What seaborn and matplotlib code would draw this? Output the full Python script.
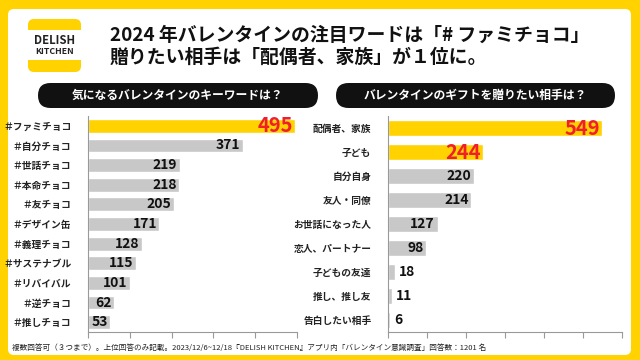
"""Valentine survey bar charts (DELISH KITCHEN)."""
import matplotlib.pyplot as plt
import pandas as pd
import seaborn as sns
from matplotlib.patches import FancyBboxPatch, Rectangle

sns.set_theme(style="white")
plt.rcParams['font.family'] = ['Noto Sans CJK JP', 'DejaVu Sans']

YELLOW = '#FFD200'
GRAY = '#C8C8C8'
RED = '#F0202A'

# left chart: keywords
kw_labels = ['＃ファミチョコ', '＃自分チョコ', '＃世話チョコ', '＃本命チョコ', '＃友チョコ',
             '＃デザイン缶', '＃義理チョコ', '＃サステナブル', '＃リバイバル', '＃逆チョコ', '＃推しチョコ']
kw_values = [495, 371, 219, 218, 205, 171, 128, 115, 101, 62, 53]
kw_top = 1

# right chart: gift recipients
gift_labels = ['配偶者、家族', '子ども', '自分自身', '友人・同僚', 'お世話になった人',
               '恋人、パートナー', '子どもの友達', '推し、推し友', '告白したい相手']
gift_values = [549, 244, 220, 214, 127, 98, 18, 11, 6]
gift_top = 2

W, H = 640, 360


def px_axes(fig, x0, y0, x1, y1):
    return fig.add_axes([x0 / W, 1 - y1 / H, (x1 - x0) / W, (y1 - y0) / H])


def draw_bars(ax, labels, values, n_top, xmax, inside_min):
    df = pd.DataFrame({'label': labels, 'value': values})
    colors = [YELLOW if i < n_top else GRAY for i in range(len(labels))]
    sns.barplot(data=df, y='label', x='value', hue='label', palette=colors,
                legend=False, orient='h', width=0.7, ax=ax, saturation=1)
    for i, v in enumerate(values):
        if i < n_top:
            ax.text(v - xmax * 0.008, i, str(v), ha='right', va='center',
                    fontsize=14.5, fontweight='bold', color=RED)
        elif v >= inside_min:
            ax.text(v - xmax * 0.012, i, str(v), ha='right', va='center',
                    fontsize=10, fontweight='bold', color='#111111')
        else:
            ax.text(v + xmax * 0.015, i, str(v), ha='left', va='center',
                    fontsize=10, fontweight='bold', color='#111111')
    ax.set_xlim(0, xmax)
    ax.set_ylim(len(labels) - 0.5, -0.5)
    ax.set_xticks(range(0, xmax + 1, 100))
    ax.set_xticklabels([])
    ax.set_xlabel('')
    ax.set_ylabel('')
    ax.tick_params(axis='x', bottom=True, length=4, color='#999999', width=0.8)
    ax.tick_params(axis='y', left=False, labelsize=7, pad=6)
    for lab in ax.get_yticklabels():
        lab.set_fontweight('bold')
        lab.set_color('#222222')
    sns.despine(ax=ax, top=True, right=True)
    for s in ('left', 'bottom'):
        ax.spines[s].set_color('#999999')
        ax.spines[s].set_linewidth(0.8)
    ax.set_facecolor('none')


fig = plt.figure(figsize=(6.4, 3.6), dpi=100)
fig.patch.set_facecolor(YELLOW)

# background layer in pixel coordinates
bg = fig.add_axes([0, 0, 1, 1], zorder=-1)
bg.set_xlim(0, W)
bg.set_ylim(H, 0)
bg.axis('off')

bg.add_patch(FancyBboxPatch((8, 9), 623, 346, boxstyle='round,pad=0,rounding_size=6',
                            facecolor='white', edgecolor='none'))

# logo
bg.add_patch(FancyBboxPatch((28, 19), 53, 53, boxstyle='round,pad=0,rounding_size=6',
                            facecolor=YELLOW, edgecolor='none'))
bg.add_patch(Rectangle((28, 30), 53, 30, facecolor='white', edgecolor='none'))
bg.text(54.5, 41, 'DELISH', ha='center', va='center', fontsize=8.2,
        fontweight='bold', color='#222222')
bg.text(54.5, 52, 'KITCHEN', ha='center', va='center', fontsize=6.3,
        fontweight='bold', color='#222222')

# title
bg.text(110, 35, '2024 年バレンタインの注目ワードは「# ファミチョコ」',
        ha='left', va='center', fontsize=13.6, fontweight='bold', color='#111111')
bg.text(110, 57, '贈りたい相手は「配偶者、家族」が１位に。',
        ha='left', va='center', fontsize=13.6, fontweight='bold', color='#111111')

# section pills
for x0, x1, txt in [(38, 318, '気になるバレンタインのキーワードは？'),
                    (336, 615, 'バレンタインのギフトを贈りたい相手は？')]:
    bg.add_patch(FancyBboxPatch((x0, 83), x1 - x0, 25,
                                boxstyle='round,pad=0,rounding_size=12.5',
                                facecolor='#111111', edgecolor='none'))
    bg.text((x0 + x1) / 2, 95.5, txt, ha='center', va='center',
            fontsize=8.5, fontweight='bold', color='white')

bg.text(12, 348,
        '複数回答可（３つまで）。上位回答のみ記載。2023/12/6~12/18『DELISH KITCHEN』'
        'アプリ内「バレンタイン意識調査」回答数：1201 名',
        ha='left', va='center', fontsize=5.5, color='#222222')

ax1 = px_axes(fig, 88, 116, 297, 332)
draw_bars(ax1, kw_labels, kw_values, kw_top, 500, 40)

ax2 = px_axes(fig, 388, 116, 622, 332)
draw_bars(ax2, gift_labels, gift_values, gift_top, 600, 40)

fig.savefig('out.png', dpi=100, facecolor=fig.get_facecolor())
